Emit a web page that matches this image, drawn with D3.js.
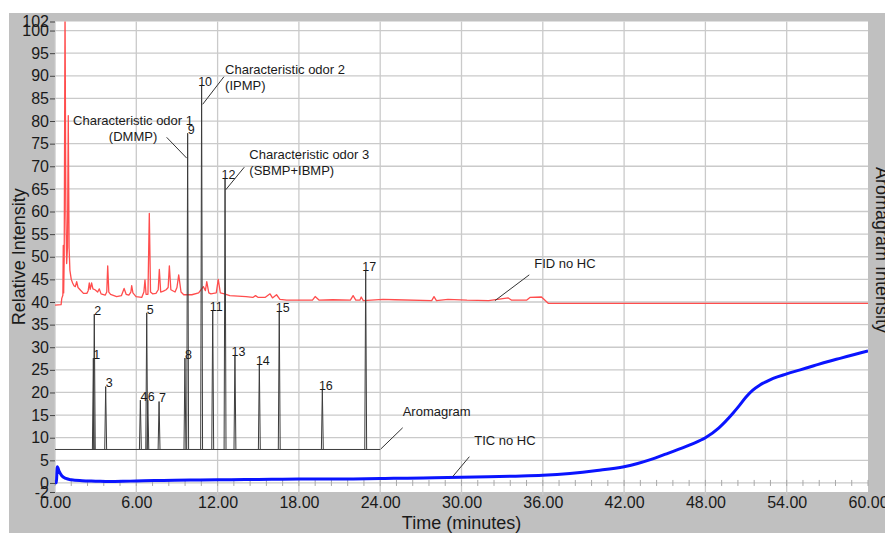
<!DOCTYPE html>
<html><head><meta charset="utf-8">
<script src="https://cdn.jsdelivr.net/npm/d3@7"></script>
<style>
body{margin:0;background:#fff}
svg{display:block}
text{font-family:"Liberation Sans",Arial,Helvetica,sans-serif}
</style>
</head><body>
<svg id="c" width="885" height="533"></svg>
<script>
// ---------------- data ----------------
const xTicks = [0, 6, 12, 18, 24, 30, 36, 42, 48, 54, 60];
const xTickLabels = ["0.00","6.00","12.00","18.00","24.00","30.00","36.00","42.00","48.00","54.00","60.00"];
const yTicks = [102, 100, 95, 90, 85, 80, 75, 70, 65, 60, 55, 50, 45, 40, 35, 30, 25, 20, 15, 10, 5, 0, -2];
const yGrid = [0,5,10,15,20,25,30,35,40,45,50,55,60,65,70,75,80,85,90,95,100];
const minorTickStep = 1.2;

// FID no HC (red) : [time, value]
const fidData = [[0,39.3],[0.45,39.4],[0.5,40.8],[0.58,41.5],[0.61,52.5],[0.64,42],[0.68,50],[0.74,106],[0.8,60],[0.86,48.5],[0.92,52],[0.98,81.2],[1.04,52],[1.1,47],[1.2,45],[1.3,44.2],[1.4,43.6],[1.5,43.4],[1.6,44.5],[1.7,43.2],[1.85,42.7],[2.1,41.9],[2.35,41.9],[2.45,42.5],[2.53,44.2],[2.6,42.8],[2.7,44.2],[2.8,42.9],[2.95,42.7],[3.15,42.2],[3.27,42.9],[3.4,41.8],[3.7,41.5],[3.82,42.2],[3.89,48.0],[3.97,42.2],[4.1,41.7],[4.55,41.2],[4.9,41.4],[5.1,43.0],[5.25,41.7],[5.45,41.5],[5.6,42.2],[5.66,43.6],[5.75,42.0],[5.98,41.2],[6.4,41.0],[6.56,42.2],[6.64,44.9],[6.72,41.7],[6.86,41.7],[6.96,59.6],[7.05,42.2],[7.2,41.8],[7.45,41.9],[7.62,42.7],[7.7,47.2],[7.8,42.2],[8.0,42.4],[8.2,42.7],[8.35,43.2],[8.44,48.0],[8.55,42.7],[8.86,42.2],[9.0,43.2],[9.13,46.0],[9.3,42.2],[9.5,41.6],[10.1,41.6],[10.6,42.0],[10.95,43.4],[11.1,42.5],[11.2,44.5],[11.35,42],[11.5,41.8],[11.9,42.0],[12.05,45.0],[12.2,42.0],[12.5,41.8],[12.9,41.4],[14.1,41.2],[14.6,41.0],[14.8,41.4],[15.0,41.0],[15.5,41.0],[15.87,41.8],[16.05,40.9],[16.35,41.6],[16.6,40.6],[17.1,40.4],[19.0,40.4],[19.2,41.2],[19.5,40.4],[20.5,40.5],[21.8,40.4],[22.0,41.4],[22.2,40.4],[22.5,40.4],[22.6,41.1],[22.75,40.3],[24.2,40.6],[25.1,40.5],[27.8,40.3],[27.97,41.2],[28.15,40.3],[29.0,40.6],[30.4,40.4],[32,40.3],[33.45,40.9],[33.7,40.4],[34.8,40.4],[35.05,41.0],[35.9,41.1],[36.4,39.7],[60,39.7]];

// TIC no HC (blue)
const ticData = [[0,0],[0.1,0.1],[0.17,3.6],[0.3,2.6],[0.5,1.6],[0.8,1.0],[1.2,0.7],[2,0.5],[3,0.4],[4,0.3],[5,0.35],[6,0.45],[8,0.55],[10,0.65],[12,0.7],[14,0.75],[16,0.8],[18,0.85],[20,0.85],[22,0.9],[24,1.0],[26,1.05],[28,1.15],[30,1.25],[32,1.35],[34,1.5],[36,1.7],[38,2.1],[40,2.75],[42,3.6],[43,4.3],[44,5.2],[45,6.3],[46,7.4],[47,8.6],[48,10.0],[49,12.2],[50,15.3],[50.5,17.1],[51,19.0],[51.5,20.5],[52,21.6],[52.5,22.4],[53,23.1],[54,24.1],[55,25.0],[56,25.9],[57,26.8],[58,27.6],[59,28.4],[60,29.2]];

// Aromagram (dark)
const aromaBaseline = 7.4;
const aromaStart = 0, aromaEnd = 24;
const peakIds     = ["1","2","3","4","5","6","7","8","9","10","11","12","13","14","15","16","17"];
const peakTimes   = [2.83, 2.90, 3.74, 6.30, 6.77, 6.85, 7.68, 9.59, 9.79, 10.82, 11.64, 12.55, 13.28, 15.08, 16.55, 19.73, 22.93];
const peakHeights = [27.6, 37.3, 21.3, 18.3, 37.6, 18.3, 18.0, 27.6, 77.3, 88.0, 38.2, 67.3, 28.3, 26.3, 37.9, 20.7, 47.0];
const peakHalfWidth = 0.07;

// annotations : text lines, text position, anchor, pointer from/to (data units)
const annotations = [
  {lines:["Characteristic odor 1","(DMMP)"], t:5.76, v:80.2, anchor:"middle", from:[8.24,76.4], to:[9.72,71.8]},
  {lines:["Characteristic odor 2","(IPMP)"], t:12.55, v:91.4, anchor:"start", from:[12.47,89.8], to:[10.9,83.7]},
  {lines:["Characteristic odor 3","(SBMP+IBMP)"], t:14.34, v:72.6, anchor:"start", from:[13.97,69.8], to:[12.6,64.8]},
  {lines:["FID no HC"], t:35.37, v:48.55, anchor:"start", from:[35.0,46.0], to:[32.47,40.3]},
  {lines:["Aromagram"], t:25.66, v:15.7, anchor:"start", from:[25.66,12.2], to:[24.04,7.5]},
  {lines:["TIC no HC"], t:30.94, v:9.5, anchor:"start", from:[30.58,5.8], to:[29.35,1.4]}
];

// ---------------- drawing ----------------
const svg = d3.select("#c");
const L = 55, R = 868, T = 21.5, B = 492;
const x = d3.scaleLinear().domain([0, 60]).range([L, R]);
const y = d3.scaleLinear().domain([-2, 102]).range([B, T]);

// background
svg.append("rect").attr("x", 9).attr("y", 13).attr("width", 876).attr("height", 520).attr("fill", "#c0c0c0");
svg.append("rect").attr("x", L).attr("y", T).attr("width", R - L).attr("height", B - T).attr("fill", "#fff");

svg.append("defs").append("clipPath").attr("id", "clip")
  .append("rect").attr("x", L).attr("y", T).attr("width", R - L).attr("height", B - T);

// grid
const grid = svg.append("g").attr("stroke", "#cacaca").attr("stroke-width", 1.3);
grid.selectAll("line.h").data(yGrid).join("line")
  .attr("x1", L).attr("x2", R).attr("y1", d => y(d)).attr("y2", d => y(d));
grid.selectAll("line.v").data(xTicks.filter(d => d < 60)).join("line")
  .attr("x1", d => x(d)).attr("x2", d => x(d)).attr("y1", T).attr("y2", B + 3);

// minor ticks along zero line
const minor = d3.range(0, 60 + 1e-6, minorTickStep);
svg.append("g").attr("stroke", "#a8a8a8").attr("stroke-width", 1)
  .selectAll("line").data(minor).join("line")
  .attr("x1", d => x(d)).attr("x2", d => x(d))
  .attr("y1", y(0) - 3).attr("y2", y(0) + 3);

// y axis
const yAxis = d3.axisLeft(y).tickValues(yTicks).tickSize(5).tickPadding(1).tickFormat(d => d);
const gy = svg.append("g").attr("transform", `translate(${L},0)`).call(yAxis);
gy.select(".domain").remove();
gy.selectAll(".tick line").attr("stroke", "#444");
gy.selectAll(".tick text").attr("font-size", 16).attr("fill", "#1a1a1a")
  .attr("font-family", '"Liberation Sans",Arial,sans-serif');

// x axis labels
const xAxis = d3.axisBottom(x).tickValues(xTicks).tickSize(0).tickPadding(5).tickFormat((d, i) => xTickLabels[i]);
const gx = svg.append("g").attr("transform", `translate(0,${B})`).call(xAxis);
gx.select(".domain").remove();
gx.selectAll(".tick text").attr("font-size", 16).attr("fill", "#1a1a1a")
  .attr("font-family", '"Liberation Sans",Arial,sans-serif');

// axis titles
svg.append("text").attr("x", (L + R) / 2).attr("y", 529).attr("text-anchor", "middle")
  .attr("font-size", 18).attr("fill", "#1a1a1a").text("Time (minutes)");
svg.append("text").attr("transform", `translate(25,${(T + B) / 2}) rotate(-90)`).attr("text-anchor", "middle")
  .attr("font-size", 18).attr("fill", "#1a1a1a").text("Relative Intensity");
svg.append("text").attr("transform", `translate(876,250) rotate(90)`).attr("text-anchor", "middle")
  .attr("font-size", 18).attr("fill", "#1a1a1a").text("Aromagram Intensity");

const plot = svg.append("g").attr("clip-path", "url(#clip)");
const line = d3.line().x(d => x(d[0])).y(d => y(d[1]));

// FID
plot.append("path").datum(fidData).attr("d", line)
  .attr("fill", "none").attr("stroke", "#ff4d4d").attr("stroke-width", 1.3).attr("stroke-linejoin", "round");

// TIC
plot.append("path").datum(ticData).attr("d", d3.line().x(d => x(d[0])).y(d => y(d[1])).curve(d3.curveMonotoneX))
  .attr("fill", "none").attr("stroke", "#0a14ff").attr("stroke-width", 3).attr("stroke-linejoin", "round");

// Aromagram baseline + peaks
const aroma = plot.append("g").attr("stroke", "#3c3c3c").attr("stroke-width", 1).attr("fill", "none");
aroma.append("path").datum([[aromaStart, aromaBaseline], [aromaEnd, aromaBaseline]]).attr("d", line);
const peaks = peakIds.map((id, i) => ({id, t: peakTimes[i], h: peakHeights[i]}));
aroma.selectAll("path.pk").data(peaks).join("path").attr("class", "pk")
  .attr("d", p => line([[p.t - peakHalfWidth, aromaBaseline], [p.t, p.h], [p.t + peakHalfWidth, aromaBaseline]]));

// peak labels
svg.append("g").selectAll("text").data(peaks).join("text")
  .attr("x", p => x(p.t) + 3.5).attr("y", p => y(p.h) - 3.5).attr("dy", "0.35em")
  .attr("text-anchor", "middle").attr("font-size", 12.5).attr("fill", "#1a1a1a")
  .text(p => p.id);

// annotations
const ann = svg.append("g");
annotations.forEach(a => {
  ann.append("line").attr("x1", x(a.from[0])).attr("y1", y(a.from[1]))
    .attr("x2", x(a.to[0])).attr("y2", y(a.to[1])).attr("stroke", "#333").attr("stroke-width", 1);
  const tx = ann.append("text").attr("text-anchor", a.anchor).attr("font-size", 13).attr("fill", "#1a1a1a");
  a.lines.forEach((s, i) => {
    tx.append("tspan").attr("x", x(a.t)).attr("y", y(a.v) + i * 16.2).attr("dy", "0.35em").text(s);
  });
});
</script>
</body></html>
